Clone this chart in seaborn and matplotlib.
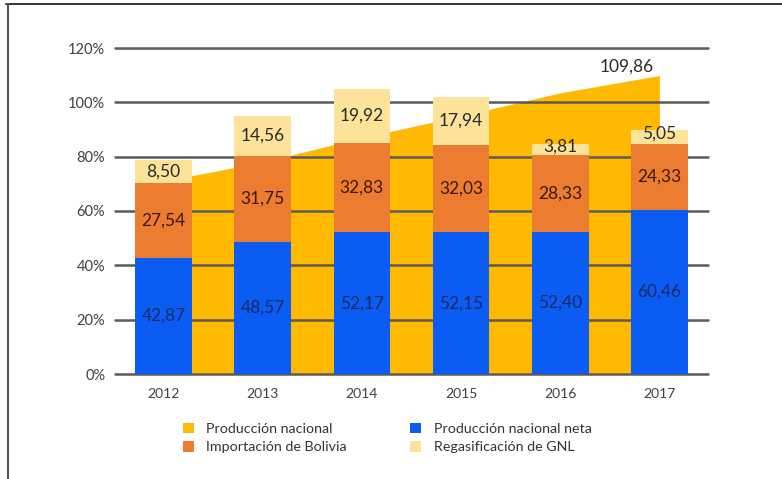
import matplotlib
matplotlib.use("Agg")
import matplotlib.pyplot as plt
from matplotlib.patches import Patch
from matplotlib.lines import Line2D
import seaborn as sns
import pandas as pd

# Data (percent of demand)
years = ["2012", "2013", "2014", "2015", "2016", "2017"]
prod_nacional = [71.0, 78.0, 87.0, 95.0, 103.5, 109.86]
prod_neta = [42.87, 48.57, 52.17, 52.15, 52.40, 60.46]
import_bolivia = [27.54, 31.75, 32.83, 32.03, 28.33, 24.33]
regas_gnl = [8.50, 14.56, 19.92, 17.94, 3.81, 5.05]
y_ticks = [0, 20, 40, 60, 80, 100, 120]
tick_labels = ["0%", "20%", "40%", "60%", "80%", "100%", "120%"]

c_area = "#FFB900"
c_blue = "#0A5CF2"
c_orange = "#EC7C30"
c_light = "#FDE39A"
c_grid = "#5a5a5a"

sns.set_theme(style="white")
plt.rcParams["font.family"] = ["Lato", "DejaVu Sans"]

df = pd.DataFrame({
    "year": years,
    "neta": prod_neta,
    "bolivia": import_bolivia,
    "gnl": regas_gnl,
})
df["base_gnl"] = df["neta"] + df["bolivia"]

fig = plt.figure(figsize=(7.82, 4.79), dpi=100)
ax = fig.add_axes([115 / 782, 105 / 479, 593 / 782, 326 / 479])

# Background area: national production
xpos = list(range(len(years)))
ax.fill_between(xpos, 0, prod_nacional, color=c_area, lw=0, zorder=1)

# Horizontal grid lines above the area, below the bars
for t in y_ticks:
    ax.axhline(t, color=c_grid, lw=1.8, zorder=2, clip_on=False)

bw = 0.57
bar_kw = dict(width=bw, saturation=1, ax=ax, zorder=3, linewidth=0,
              edgecolor="none")
sns.barplot(data=df, x="year", y="neta", color=c_blue, **bar_kw)
sns.barplot(data=df, x="year", y="bolivia", bottom=df["neta"], color=c_orange,
            **bar_kw)
sns.barplot(data=df, x="year", y="gnl", bottom=df["base_gnl"], color=c_light,
            **bar_kw)

def fmt(v):
    return f"{v:.2f}".replace(".", ",")

for i in range(len(years)):
    n, b, g = prod_neta[i], import_bolivia[i], regas_gnl[i]
    ax.text(i, n / 2, fmt(n), ha="center", va="center", fontsize=12.5,
            color="#1b2a66", zorder=5)
    ax.text(i, n + b / 2, fmt(b), ha="center", va="center", fontsize=12.5,
            color="#3a1a0a", zorder=5)
    ax.text(i, n + b + g / 2 + (1.0 if g < 6 else 0), fmt(g), ha="center",
            va="center", fontsize=12.5, color="#2a2a2a", zorder=5)

ax.text(len(years) - 1.33, prod_nacional[-1] + 3.3, fmt(prod_nacional[-1]),
        ha="center", va="center", fontsize=12.5, color="#2a2a2a", zorder=5)

ax.set_xlim(-0.49, len(years) - 0.51)
ax.set_ylim(0, 120)
ax.set_yticks(y_ticks)
ax.set_yticklabels(tick_labels, fontsize=10.5, color="#404040")
ax.tick_params(axis="x", labelsize=10, colors="#404040", length=0, pad=10)
ax.tick_params(axis="y", length=0, pad=7)
ax.set_xlabel("")
ax.set_ylabel("")
for s in ax.spines.values():
    s.set_visible(False)
ax.grid(False)

handles = [
    Patch(facecolor=c_area, edgecolor="none", label="Producción nacional"),
    Patch(facecolor=c_orange, edgecolor="none", label="Importación de Bolivia"),
    Patch(facecolor=c_blue, edgecolor="none", label="Producción nacional neta"),
    Patch(facecolor=c_light, edgecolor="none", label="Regasificación de GNL"),
]
fig.legend(handles=handles, ncol=2, loc="center left",
           bbox_to_anchor=(170 / 782, 1 - 438 / 479), frameon=False,
           fontsize=10.3, handlelength=0.75, handleheight=0.75,
           handletextpad=0.9, columnspacing=4.4, labelspacing=0.45,
           labelcolor="#333333")

# Frame lines at top and left of the figure
fig.add_artist(Line2D([6 / 782, 1], [1 - 4 / 479, 1 - 4 / 479],
                      transform=fig.transFigure, color="#222222", lw=1.3))
fig.add_artist(Line2D([8 / 782, 8 / 782], [0, 1 - 4 / 479],
                      transform=fig.transFigure, color="#555555", lw=1.5))

fig.savefig("out.png", dpi=100)
